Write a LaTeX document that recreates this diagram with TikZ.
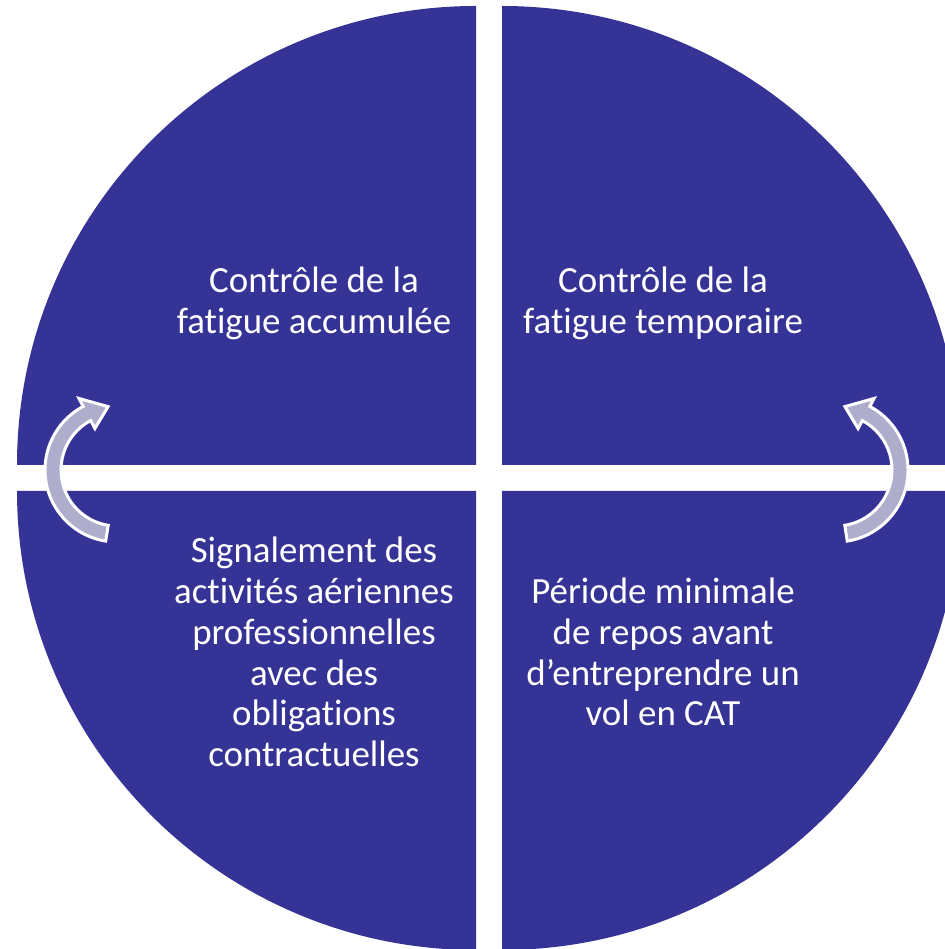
\documentclass[tikz,border=0pt]{standalone}
\usepackage{fontspec}
\setmainfont{Carlito}[Ligatures={NoCommon}]
\definecolor{quadblue}{RGB}{53,52,150}
\definecolor{arrowgray}{RGB}{174,174,204}
\tikzset{
  quad/.style={fill=quadblue,draw=none},
  quadtext/.style={text=white,align=center,font=\fontsize{21}{23.2}\selectfont},
  cyclearrow/.style={fill=arrowgray,draw=white,line width=1.7pt,line join=miter}
}
\begin{document}
\begin{tikzpicture}[x=0.02cm,y=0.02cm]
    \def\R{459}
    \useasboundingbox (0,0) rectangle (945,949);
    \clip (0,0) rectangle (945,949);
    % quarters of the cycle
    \fill[white] (0,0) rectangle (945,949);
    \path[quad] (476,484) -- (476-\R,484) arc[start angle=180,end angle=90,radius=\R] -- cycle;
    \path[quad] (502,484) -- (502,484+\R) arc[start angle=90,end angle=0,radius=\R] -- cycle;
    \path[quad] (476,458) -- (476,458-\R) arc[start angle=270,end angle=180,radius=\R] -- cycle;
    \path[quad] (502,458) -- (502+\R,458) arc[start angle=0,end angle=-90,radius=\R] -- cycle;
    % texts
    \node[quadtext] (accum) at (314,646) {Contrôle de la\\fatigue accumulée};
    \node[quadtext] (tempo) at (663,646) {Contrôle de la\\fatigue temporaire};
    \node[quadtext] (signal) at (314,297) {Signalement des\\activités aériennes\\professionnelles\\avec des\\obligations\\contractuelles};
    \node[quadtext] (repos) at (663,297) {Période minimale\\de repos avant\\d’entreprendre un\\vol en CAT};
    % circular arrows
    \foreach \cx/\sx in {117/1,836/-1}{
      \begin{scope}[shift={(\cx,479)},xscale=\sx]
        \path[cyclearrow] (261:72) arc[start angle=261,end angle=118,radius=72]
          -- (118:81) -- (98:64) -- (118:47) -- (118:56)
          arc[start angle=118,end angle=261,radius=56] -- cycle;
      \end{scope}
    }
\end{tikzpicture}
\end{document}
